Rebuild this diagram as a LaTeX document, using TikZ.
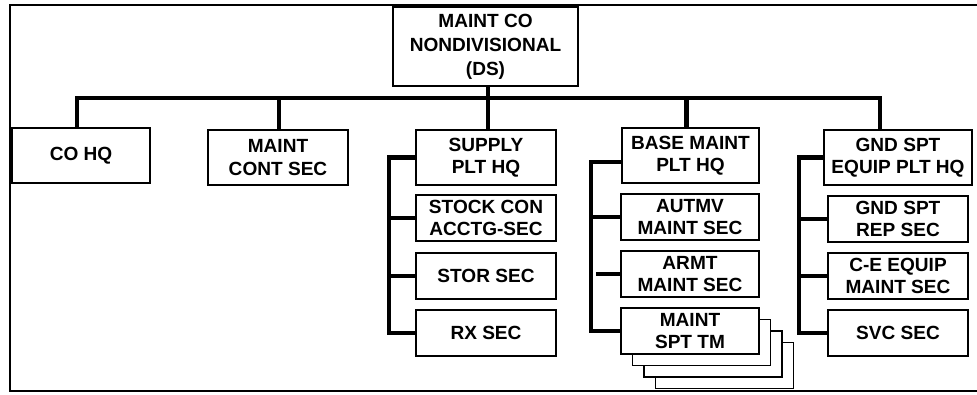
\documentclass[tikz,border=0pt]{standalone}
\usepackage{fontspec}
\setmainfont{Liberation Sans}
\usetikzlibrary{calc}
\begin{document}
\begin{tikzpicture}[x=0.75pt,y=-0.75pt,
  box/.style={draw, line width=1.3pt, fill=white, align=center, inner sep=1pt,
              font=\bfseries\fontsize{14.3}{16.8}\selectfont},
  lvl/.style={box, minimum width=105pt, minimum height=41.25pt},
  sub/.style={box, minimum width=105pt, minimum height=34.5pt},
  bus/.style={line width=3.2pt},
  frame/.style={line width=1.5pt}]
\useasboundingbox (0,0) rectangle (977,394);
% open frame (no right side)
\draw[frame] (977,5) -- (10,5) -- (10,391) -- (977,391);

% company headquarters
\node[box, minimum width=138.75pt, minimum height=59.25pt,
      font=\bfseries\fontsize{14.3}{18}\selectfont] (top) at (485.5,46.5)
  {MAINT CO\\NONDIVISIONAL\\(DS)};

% second level
\node[lvl, minimum width=103.5pt] (cohq) at (81,155.5) {CO HQ};
\node[lvl] (mcs) at (278,157.5) {MAINT\\CONT SEC};
\node[lvl] (sup) at (486,157.5) {SUPPLY\\PLT HQ};
\node[lvl, minimum width=103pt] (base) at (690.5,155.5) {BASE MAINT\\PLT HQ};
\node[lvl, minimum width=111pt] (gnd) at (898,157.5) {GND SPT\\EQUIP PLT HQ};

% supply platoon sections
\node[sub] (stock) at (486,218) {STOCK CON\\ACCTG-SEC};
\node[sub] (stor) at (486,276) {STOR SEC};
\node[sub] (rx) at (486,333) {RX SEC};

% base maintenance platoon sections
\node[sub, minimum width=103.5pt] (autmv) at (690,217) {AUTMV\\MAINT SEC};
\node[sub, minimum width=103.5pt] (armt) at (690,274) {ARMT\\MAINT SEC};
\foreach \i in {3,2,1}
  \node[sub, minimum width=103.5pt] (tm\i) at ({690+11.5*\i},{331+11.5*\i}) {};
\node[sub, minimum width=103.5pt] (tm) at (690,331) {MAINT\\SPT TM};

% ground support equipment platoon sections
\node[sub] (rep) at (898,219) {GND SPT\\REP SEC};
\node[sub] (ce) at (898,276) {C-E EQUIP\\MAINT SEC};
\node[sub] (svc) at (898,333) {SVC SEC};

% main bus
\coordinate (busy) at (0,98);
\draw[bus] ([xshift=-3pt]cohq.north) -- ([xshift=-3pt]cohq.north |- busy)
  -- ([xshift=-13.5pt]gnd.north |- busy) -- ([xshift=-13.5pt]gnd.north);
\foreach \n/\dx in {mcs/0.75pt, sup/1.5pt, base/-3pt}
  \draw[bus] ([xshift=\dx]\n.north) -- ([xshift=\dx]\n.north |- busy);
\draw[bus] ([xshift=2pt]top.south) -- ([xshift=2pt]top.south |- busy);

% supply spine
\draw[bus] (sup.west) -- ++(-26,0) |- (rx.west);
\draw[bus] (stock.west) -- ++(-26,0);
\draw[bus] (stor.west) -- ++(-26,0);

% base maintenance spine
\draw[bus] ([yshift=-5pt]base.west) -- ++(-30,0) |- (tm.west);
\draw[bus] (autmv.west) -- ++(-29,0);
\draw[bus] (armt.west) -- ++(-24,0);

% ground support spine
\draw[bus] (gnd.west) -- ++(-24,0) |- (svc.west);
\draw[bus] (rep.west) -- ++(-28,0);
\draw[bus] (ce.west) -- ++(-28,0);
\end{tikzpicture}
\end{document}
